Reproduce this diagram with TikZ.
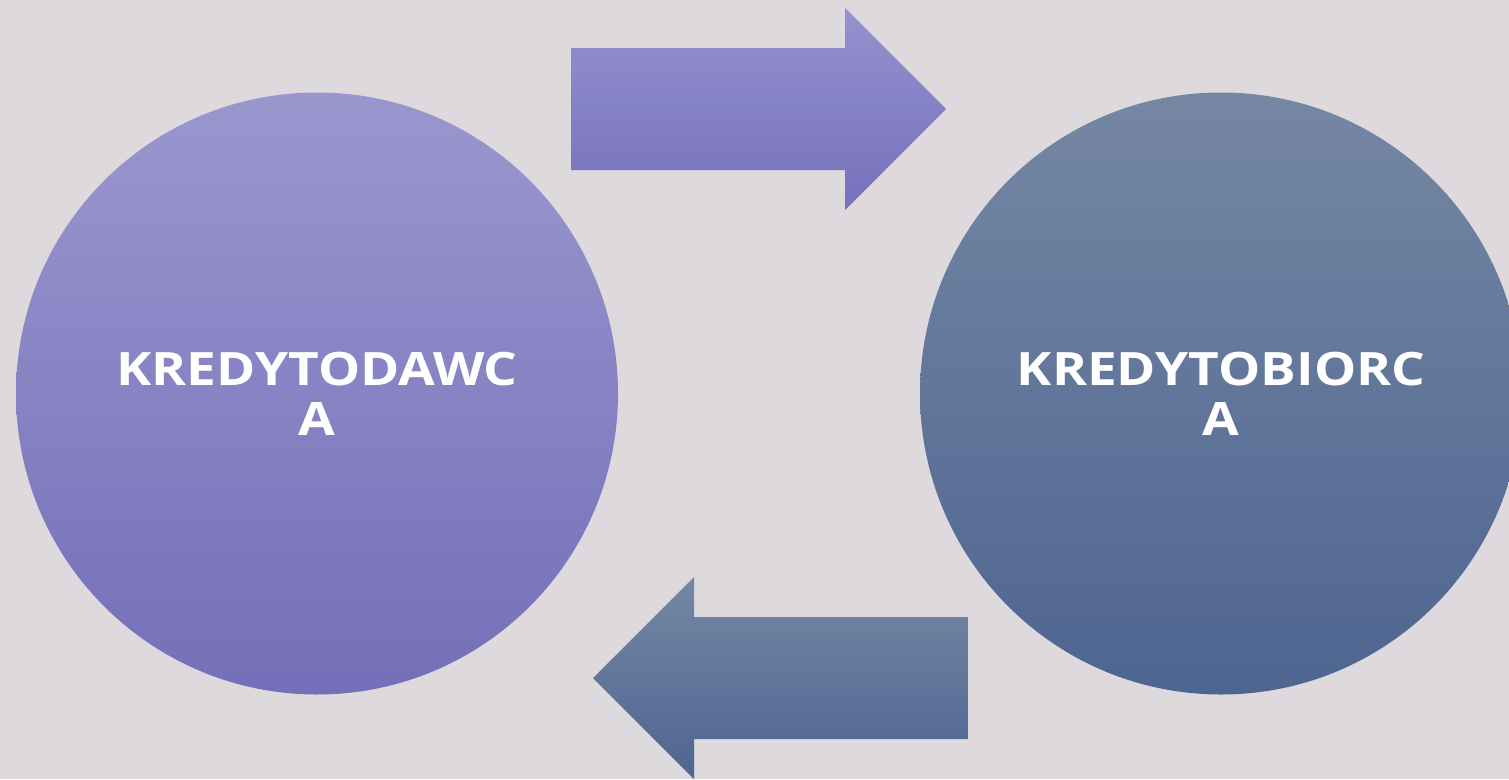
\documentclass[tikz,border=0pt]{standalone}
\usepackage{fontspec}
\setmainfont{Open Sans}
\newcommand{\widetxt}[1]{\scalebox{1.155}[1]{#1}}
\begin{document}
\begin{tikzpicture}[x=1pt,y=-1pt,
  circ/.style={circle,inner sep=0pt,minimum size=602pt,align=center,text=white,
    font=\bfseries\fontsize{46}{50}\selectfont},
  purple/.style={top color=purpTop,bottom color=purpBot},
  slate/.style={top color=slateTop,bottom color=slateBot}]
\definecolor{bg}{HTML}{DDD9DC}
\definecolor{purpTop}{HTML}{9A97CF}
\definecolor{purpBot}{HTML}{746FB8}
\definecolor{slateTop}{HTML}{7587A3}
\definecolor{slateBot}{HTML}{4E6591}
\definecolor{arTopP}{HTML}{9592D0}
\definecolor{arBotP}{HTML}{7570BB}
\fill[bg] (0,0) rectangle (1509,779);
\useasboundingbox (0,0) rectangle (1509,779);
\node[circ,purple] (lender) at (317,393.5) {\widetxt{KREDYTODAWC}\\\widetxt{A}};
\node[circ,slate] (borrower) at (1221,393.5) {\widetxt{KREDYTOBIORC}\\\widetxt{A}};
\shade[top color=arTopP,bottom color=arBotP]
  (571,48) -- (845,48) -- (845,8) -- (946,109) -- (845,210) -- (845,170) -- (571,170) -- cycle;
\shade[top color=slateTop,bottom color=slateBot]
  (968,617) -- (694,617) -- (694,577) -- (593,678) -- (694,779) -- (694,739) -- (968,739) -- cycle;
\end{tikzpicture}
\end{document}
